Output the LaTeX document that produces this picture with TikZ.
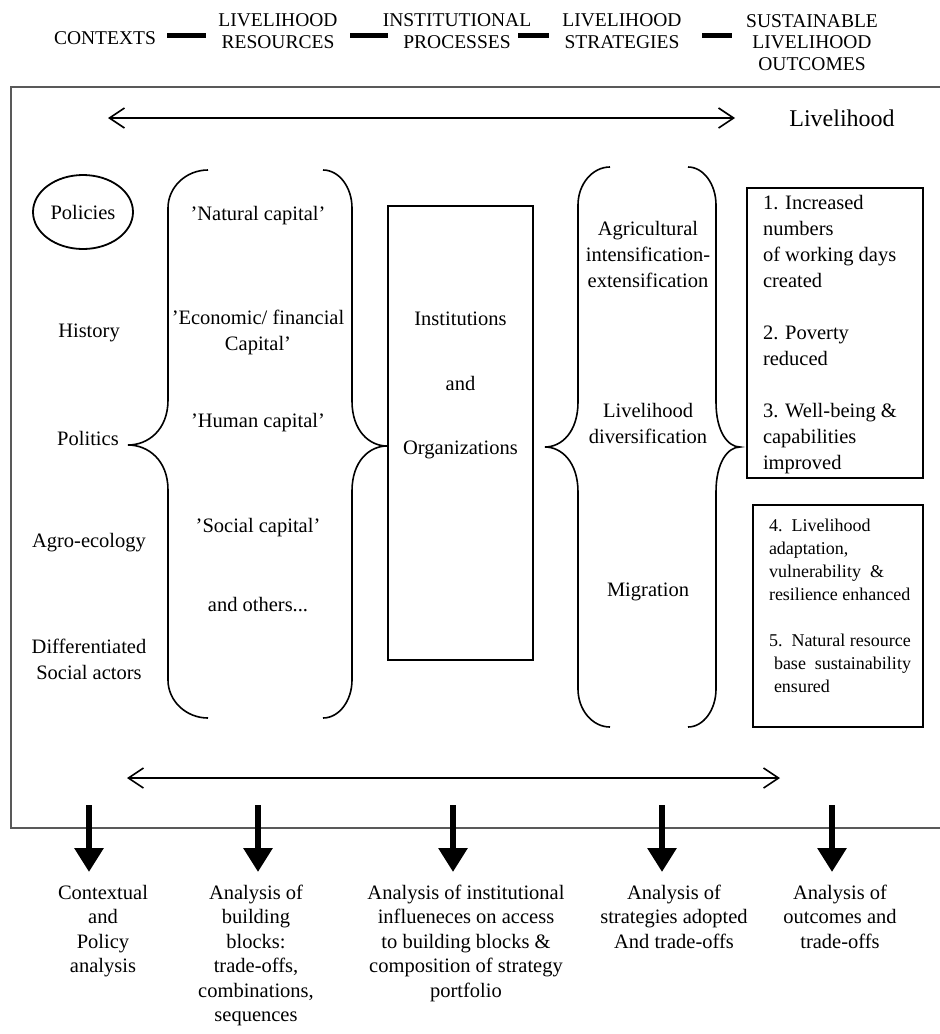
\documentclass[tikz,border=0pt]{standalone}
\usepackage{fontspec}
\setmainfont{Liberation Serif}
\usetikzlibrary{arrows.meta,shapes.geometric,calc}
% #1 end x, #2 vertical x, #3 tip x, #4 top y, #5 tip y, #6 bottom y
\newcommand\drawcurlybrace[6]{%
  \draw[bracestyle] (#1,#4) .. controls ({#1+0.55*(#2-#1)},#4) and (#2,{#4+0.45*38}) .. (#2,{#4+38})
    -- (#2,{#5-45}) .. controls (#2,{#5-15}) and ({#2+0.5*(#3-#2)},#5) .. (#3,#5)
    .. controls ({#2+0.5*(#3-#2)},#5) and (#2,{#5+15}) .. (#2,{#5+45})
    -- (#2,{#6-38}) .. controls (#2,{#6-0.45*38}) and ({#1+0.55*(#2-#1)},#6) .. (#1,#6);}
\tikzset{
  hdr/.style={align=center, font=\fontsize{19.5}{21.5}\selectfont},
  body/.style={align=center, font=\fontsize{20.5}{26}\selectfont},
  smalltxt/.style={align=left, font=\fontsize{18}{23}\selectfont},
  bottxt/.style={align=center, font=\fontsize{20.5}{24.5}\selectfont},
  bigarrow/.style={line width=6pt, -{Triangle[length=24pt,width=28pt]}, shorten >=13pt},
  dblarrow/.style={line width=1.6pt, {Straight Barb[length=15pt,width=20pt,line width=1.6pt]}-{Straight Barb[length=15pt,width=20pt,line width=1.6pt]}},
  outerframe/.style={line width=2.6pt, draw=black!65},
  boxline/.style={draw=black, line width=1.8pt},
  dashbar/.style={line width=5pt},
  bracestyle/.style={line width=1.6pt}
}
\begin{document}
\begin{tikzpicture}[x=1pt, y=-1pt, every node/.style={inner sep=0pt, outer sep=0pt}]
\useasboundingbox (0,0) rectangle (940,1034);

% header
\node[hdr] (hctx) at (105,38) {CONTEXTS};
\node[hdr] (hres) at (278,31) {LIVELIHOOD\\RESOURCES};
\node[hdr] (hinst) at (457,31) {INSTITUTIONAL\\PROCESSES};
\node[hdr] (hstr) at (622,31) {LIVELIHOOD\\STRATEGIES};
\node[hdr] (hout) at (812,42.5) {SUSTAINABLE\\LIVELIHOOD\\OUTCOMES};
\draw[dashbar] (167,35) -- (206,35);
\draw[dashbar] (350,35) -- (388,35);
\draw[dashbar] (518,35) -- (549,35);
\draw[dashbar] (702,35) -- (732,35);

% outer frame
\draw[outerframe] (950,87) -- (11,87) -- (11,828) -- (950,828);

% top arrow
\coordinate (tl) at (108,118);
\coordinate (tr) at (735,118);
\draw[dblarrow] (tl) -- (tr);
\node[font=\fontsize{24}{28}\selectfont] (livl) at (842,118) {Livelihood};

% contexts
\node[body, ellipse, draw, line width=1.8pt, minimum width=100pt, minimum height=74pt] (pol) at (83,212) {Policies};
\node[body] (hist) at (89,333) {History};
\node[body] (polit) at (88,438) {Politics};
\node[body] (agro) at (89,543) {Agro-ecology};
\node[body] (diff) at (89,659) {Differentiated\\Social actors};

% braces
\drawcurlybrace{208}{168}{128}{170}{445}{718}
\drawcurlybrace{323}{352}{387}{170}{446}{718}
\drawcurlybrace{610}{578}{545}{167}{447}{727}
\drawcurlybrace{688}{716}{740}{167}{447}{727}

% resources
\node[body] (nat) at (258,216) {'Natural capital'};
\node[body] (econ) at (258,332) {'Economic/ financial\\Capital'};
\node[body] (hum) at (258,423) {'Human capital'};
\node[body] (soc) at (258,528) {'Social capital'};
\node[body] (oth) at (258,605) {and others...};

% institutions
\node[boxline, minimum width=145pt, minimum height=454pt] (inst) at (460.5,433) {};
\node[body] (insttxt) at (460.5,385.5) {Institutions\\[38.5pt]and\\[38.5pt]Organizations};

% strategies
\node[body] (agri) at (648,254) {Agricultural\\intensification-\\extensification};
\node[body] (divr) at (648,423) {Livelihood\\diversification};
\node[body] (mig) at (648,592) {Migration};

% outcomes
\node[boxline, minimum width=176pt, minimum height=290pt, anchor=north west] (out1) at (747,188) {};
\node[body, align=left, anchor=north west] (out1t) at (763,195)
  {1. Increased\\numbers\\of working days\\created\\[26pt]2. Poverty\\reduced\\[26pt]3. Well-being \&\\capabilities\\improved};
\node[boxline, minimum width=170pt, minimum height=222pt, anchor=north west] (out2) at (753,505) {};
\node[smalltxt, anchor=north west] (out2t) at (769,519)
  {4.\ \ Livelihood\\adaptation,\\vulnerability\ \ \&\\resilience enhanced\\[23pt]5.\ \ Natural resource\\\hspace*{5pt}base\ \ sustainability\\\hspace*{5pt}ensured};

% bottom arrow
\coordinate (bl) at (127,778);
\coordinate (br) at (780,778);
\draw[dblarrow] (bl) -- (br);

% analyses
\node[bottxt, anchor=north] (t1) at (103,885) {Contextual\\and\\Policy\\analysis};
\node[bottxt, anchor=north] (t2) at (256,885) {Analysis of\\building\\blocks:\\trade-offs,\\combinations,\\sequences};
\node[bottxt, anchor=north] (t3) at (466,885) {Analysis of institutional\\influeneces on access\\to building blocks \&\\composition of strategy\\portfolio};
\node[bottxt, anchor=north] (t4) at (674,885) {Analysis of\\strategies adopted\\And trade-offs};
\node[bottxt, anchor=north] (t5) at (840,885) {Analysis of\\outcomes and\\trade-offs};

\coordinate (s1) at (89,805);
\coordinate (s2) at (258,805);
\coordinate (s3) at (453,805);
\coordinate (s4) at (662,805);
\coordinate (s5) at (832,805);
\draw[bigarrow] (s1) -- (s1 |- t1.north);
\draw[bigarrow] (s2) -- (s2 |- t2.north);
\draw[bigarrow] (s3) -- (s3 |- t3.north);
\draw[bigarrow] (s4) -- (s4 |- t4.north);
\draw[bigarrow] (s5) -- (s5 |- t5.north);
\end{tikzpicture}
\end{document}
